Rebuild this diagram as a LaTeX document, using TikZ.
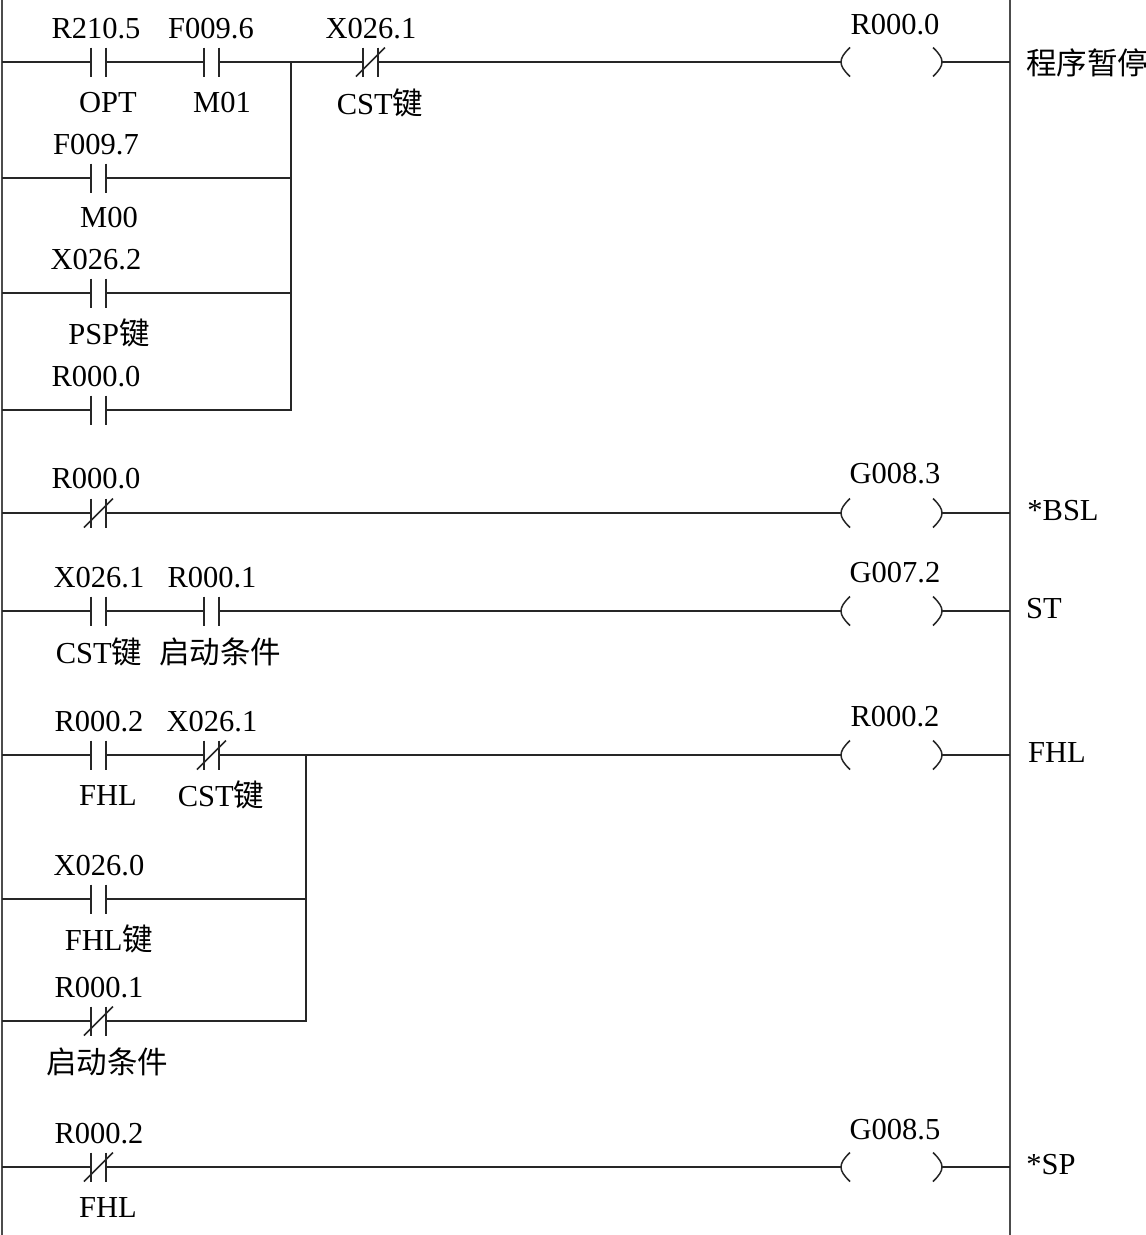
\documentclass[tikz,border=0pt]{standalone}
\usepackage{fontspec}
\setmainfont{Liberation Serif}
\newfontfamily\cjk{Noto Sans CJK SC}
\usepackage{tikz}
\usetikzlibrary{positioning}
\tikzset{
	wire/.style={line width=1.5pt,color=black!85},
	rail/.style={line width=1.9pt,color=black!70},
	contact/.style={minimum width=15pt,minimum height=29pt,inner sep=0pt,outer sep=0pt},
	coilbox/.style={minimum width=101pt,minimum height=29pt,inner sep=0pt,outer sep=0pt},
	lbl/.style={font=\fontsize{30.5}{30.5}\selectfont,inner sep=0pt,text height=20pt,text depth=0pt}
}
\newcommand{\nocontact}[3]{
	\node[contact] (#1) at (#2,#3) {};
	\draw[wire] (#1.north west) -- (#1.south west) (#1.north east) -- (#1.south east);
}
\newcommand{\nccontact}[3]{
	\nocontact{#1}{#2}{#3}
	\draw[wire] ([xshift=-7pt]#1.south west) -- ([xshift=7pt]#1.north east);
}
\newcommand{\coil}[3]{
	\node[coilbox] (#1) at (#2,#3) {};
	\draw[wire] ([xshift=9pt]#1.north west) .. controls ([xshift=-3pt,yshift=3pt]#1.west) and ([xshift=-3pt,yshift=-3pt]#1.west) .. ([xshift=9pt]#1.south west);
	\draw[wire] ([xshift=-9pt]#1.north east) .. controls ([xshift=3pt,yshift=3pt]#1.east) and ([xshift=3pt,yshift=-3pt]#1.east) .. ([xshift=-9pt]#1.south east);
}
\begin{document}
\begin{tikzpicture}[x=1pt,y=-1pt]
	\useasboundingbox (0,0) rectangle (1146,1235);
	\coordinate (railtl) at (2,0);
	\coordinate (railbl) at (2,1235);
	\coordinate (railtr) at (1010,0);
	\coordinate (railbr) at (1010,1235);
	\draw[rail] (railtl) -- (railbl);
	\draw[rail] (railtr) -- (railbr);

	\nocontact{a1}{98.5}{62}
	\nocontact{a2}{211.5}{62}
	\nccontact{a3}{370.5}{62}
	\coil{ca}{891.5}{62}
	\nocontact{b1}{98.5}{178}
	\nocontact{d1}{98.5}{293}
	\nocontact{e1}{98.5}{410}
	\nccontact{f1}{98.5}{513}
	\coil{cf}{891.5}{513}
	\nocontact{g1}{98.5}{611}
	\nocontact{g2}{211.5}{611}
	\coil{cg}{891.5}{611}
	\nocontact{h1}{98.5}{755}
	\nccontact{h2}{211.5}{755}
	\coil{ch}{891.5}{755}
	\nocontact{i1}{98.5}{899}
	\nccontact{j1}{98.5}{1021}
	\nccontact{k1}{98.5}{1167}
	\coil{ck}{891.5}{1167}

	\coordinate (joina) at (291,62);
	\coordinate (joinb) at (291,178);
	\coordinate (joind) at (291,293);
	\coordinate (joine) at (291,410);
	\coordinate (joinh) at (306,755);
	\coordinate (joini) at (306,899);
	\coordinate (joinj) at (306,1021);

	\draw[wire] (a1 -| railtl) -- (a1);
	\draw[wire] (a1) -- (a2);
	\draw[wire] (a2) -- (joina) -- (a3);
	\draw[wire] (a3) -- (ca);
	\draw[wire] (ca) -- (ca -| railtr);
	\draw[wire] (b1 -| railtl) -- (b1);
	\draw[wire] (b1) -- (joinb);
	\draw[wire] (d1 -| railtl) -- (d1);
	\draw[wire] (d1) -- (joind);
	\draw[wire] (e1 -| railtl) -- (e1);
	\draw[wire] (e1) -- (joine) -- (joina);
	\draw[wire] (f1 -| railtl) -- (f1);
	\draw[wire] (f1) -- (cf);
	\draw[wire] (cf) -- (cf -| railtr);
	\draw[wire] (g1 -| railtl) -- (g1);
	\draw[wire] (g1) -- (g2);
	\draw[wire] (g2) -- (cg);
	\draw[wire] (cg) -- (cg -| railtr);
	\draw[wire] (h1 -| railtl) -- (h1);
	\draw[wire] (h1) -- (h2);
	\draw[wire] (h2) -- (joinh) -- (ch);
	\draw[wire] (ch) -- (ch -| railtr);
	\draw[wire] (i1 -| railtl) -- (i1);
	\draw[wire] (i1) -- (joini);
	\draw[wire] (j1 -| railtl) -- (j1);
	\draw[wire] (j1) -- (joinj) -- (joinh);
	\draw[wire] (k1 -| railtl) -- (k1);
	\draw[wire] (k1) -- (ck);
	\draw[wire] (ck) -- (ck -| railtr);

	\node[lbl] (ta1) at (96,28) {R210.5};
	\node[lbl] (ta2) at (211,28) {F009.6};
	\node[lbl] (ta3) at (371,28) {X026.1};
	\node[lbl] (tca) at (895,24) {R000.0};
	\node[lbl] (ua1) at (108,102) {OPT};
	\node[lbl] (ua2) at (222,102) {M01};
	\node[lbl] (ua3) at (380,104) {CST{\cjk 键}};
	\node[lbl] (oa) at (1087,64) {{\cjk 程序暂停}};
	\node[lbl] (tb1) at (96,144) {F009.7};
	\node[lbl] (ub1) at (109,217) {M00};
	\node[lbl] (td1) at (96,259) {X026.2};
	\node[lbl] (ud1) at (109,334) {PSP{\cjk 键}};
	\node[lbl] (te1) at (96,376) {R000.0};
	\node[lbl] (tf1) at (96,478) {R000.0};
	\node[lbl] (tcf) at (895,473) {G008.3};
	\node[lbl] (of) at (1063,510) {*BSL};
	\node[lbl] (tg1) at (99,577) {X026.1};
	\node[lbl] (tg2) at (212,577) {R000.1};
	\node[lbl] (tcg) at (895,572) {G007.2};
	\node[lbl] (og) at (1044,608) {ST};
	\node[lbl] (ug1) at (99,653) {CST{\cjk 键}};
	\node[lbl] (ug2) at (220,653) {{\cjk 启动条件}};
	\node[lbl] (th1) at (99,721) {R000.2};
	\node[lbl] (th2) at (212,721) {X026.1};
	\node[lbl] (tch) at (895,716) {R000.2};
	\node[lbl] (oh) at (1057,752) {FHL};
	\node[lbl] (uh1) at (108,795) {FHL};
	\node[lbl] (uh2) at (221,796) {CST{\cjk 键}};
	\node[lbl] (ti1) at (99,865) {X026.0};
	\node[lbl] (ui1) at (109,940) {FHL{\cjk 键}};
	\node[lbl] (tj1) at (99,987) {R000.1};
	\node[lbl] (uj1) at (107,1063) {{\cjk 启动条件}};
	\node[lbl] (tk1) at (99,1133) {R000.2};
	\node[lbl] (tck) at (895,1129) {G008.5};
	\node[lbl] (ok) at (1051,1164) {*SP};
	\node[lbl] (uk1) at (108,1207) {FHL};
\end{tikzpicture}
\end{document}
